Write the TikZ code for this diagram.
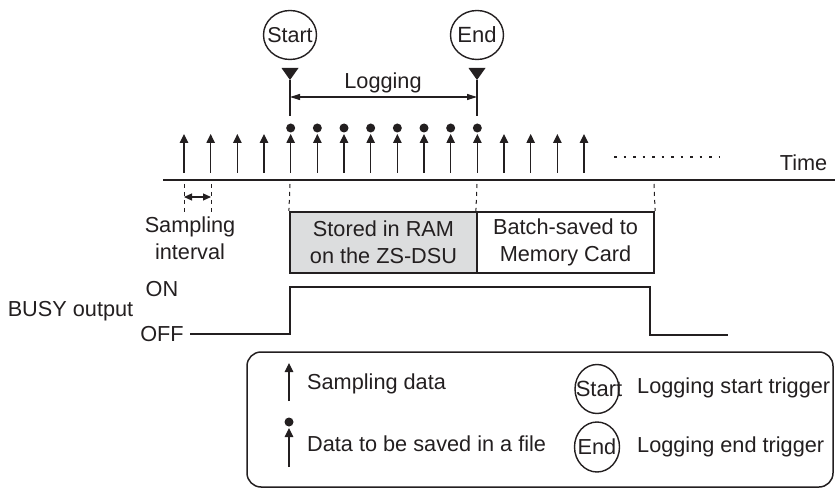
\documentclass[tikz,border=0pt]{standalone}
\usepackage{fontspec}
\setmainfont{Liberation Sans}
\usetikzlibrary{arrows.meta,shapes.geometric}
\definecolor{ink}{HTML}{231F20}
\definecolor{boxgray}{HTML}{DCDDDE}
\begin{document}
\begin{tikzpicture}[x=1pt,y=-1pt,
  lbl/.style={font=\fontsize{21.7}{26.5}\selectfont, inner sep=0pt, text=ink},
  trig/.style={draw=ink, line width=1.4pt, ellipse, inner sep=0pt, text=ink},
  samp/.style={draw=ink, line width=1.2pt, -{Triangle[length=9pt,width=8.5pt]}},
  dotmark/.style={circle, fill=ink, inner sep=0pt, minimum size=9pt},
  guide/.style={draw=ink, line width=1pt, dash pattern=on 4pt off 4pt},
  wire/.style={draw=ink, line width=1.3pt},
  marker/.style={fill=ink},
  storebox/.style={draw=ink, line width=2.2pt, minimum height=61pt, inner sep=0pt, align=center, font=\fontsize{21.7}{27}\selectfont, text=ink}
]
\useasboundingbox (0,0) rectangle (835,489);

% ---- triggers at top
\node[trig, minimum width=53pt, minimum height=49pt] (start) at (290,35) {};
\node[lbl, font=\fontsize{21.5}{24}\selectfont] (starttx) at (start.center) {Start};
\node[trig, minimum width=53pt, minimum height=49pt] (end) at (477,35) {};
\node[lbl, font=\fontsize{22}{24}\selectfont] (endtx) at (end.center) {End};
\coordinate (sa) at (290,80);
\coordinate (ea) at (477,80);
\coordinate (sl) at (290,116);
\coordinate (el) at (477,116);
\fill[marker] (sa) -- ++(-8.5,-12) -- ++(17,0) -- cycle;
\fill[marker] (ea) -- ++(-8.5,-12) -- ++(17,0) -- cycle;
\draw[wire] (sa) -- (sl);
\draw[wire] (ea) -- (el);
\coordinate (la) at (290,97);
\coordinate (lb) at (477,97);
\draw[wire, line width=1.1pt, {Triangle[length=10pt,width=6pt]}-{Triangle[length=10pt,width=6pt]}] (la) -- (lb);
\node[lbl] (logging) at (383,83) {Logging};

% ---- sampling arrows
\foreach \i in {0,...,15} {
  \pgfmathsetmacro\xx{184+26.667*\i}
  \coordinate (b\i) at (\xx,173);
  \coordinate (t\i) at (\xx,134);
  \draw[samp] (b\i) -- (t\i);
}
\foreach \i in {4,...,11} {
  \pgfmathsetmacro\xx{184+26.667*\i}
  \node[dotmark] (d\i) at (\xx,128) {};
}

% ---- time axis
\coordinate (ax0) at (163,180);
\coordinate (ax1) at (835,180);
\draw[wire, line width=1.5pt] (ax0) -- (ax1);
\node[lbl] (time) at (803.5,163) {Time};
\coordinate (dt0) at (614,157);
\coordinate (dt1) at (720,157);
\draw[draw=ink, line width=2.6pt, dash pattern=on 2.6pt off 6.9pt] (dt0) -- (dt1);

% ---- sampling interval
\coordinate (si0) at (184,184);
\coordinate (si0b) at (184,212);
\coordinate (si1) at (211,184);
\coordinate (si1b) at (211,212);
\draw[guide] (si0) -- (si0b);
\draw[guide] (si1) -- (si1b);
\coordinate (sia) at (184,197);
\coordinate (sib) at (211,197);
\draw[wire, line width=1.1pt, {Triangle[length=8pt,width=7pt]}-{Triangle[length=8pt,width=7pt]}] (sia) -- (sib);
\node[lbl, align=center] (sint) at (190,238) {Sampling\\interval};

% ---- storage boxes
\node[storebox, fill=boxgray, minimum width=187pt] (ram) at (383.5,242.5) {Stored in RAM\\on the ZS-DSU};
\node[storebox, minimum width=177pt] (card) at (565.5,242.5) {Batch-saved to\\Memory Card};
\coordinate (g1) at (290,184);
\coordinate (g2) at (477,184);
\coordinate (g3) at (654,184);
\draw[guide] (g1) -- (ram.north west);
\draw[guide] (g2) -- (card.north west);
\draw[guide] (g3) -- (card.north east);

% ---- BUSY output
\node[lbl] (busy) at (70.5,311) {BUSY output};
\node[lbl] (on) at (162,289) {ON};
\node[lbl] (off) at (162,334) {OFF};
\coordinate (w0) at (190,334);
\coordinate (w1) at (290,334);
\coordinate (w2) at (290,287);
\coordinate (w3) at (650,287);
\coordinate (w4) at (650,335);
\coordinate (w5) at (728,335);
\draw[wire] (w0) -- (w1) -- (w2) -- (w3) -- (w4) -- (w5);

% ---- legend
\coordinate (lg0) at (247,352);
\coordinate (lg1) at (833,487);
\draw[draw=ink, line width=1.5pt, rounded corners=14pt] (lg0) rectangle (lg1);
\coordinate (l1b) at (289,401);
\coordinate (l1t) at (289,363);
\draw[samp] (l1b) -- (l1t);
\node[lbl, anchor=west] (ltx1) at (307,384) {Sampling data};
\coordinate (l2b) at (289,467);
\coordinate (l2t) at (289,428);
\draw[samp] (l2b) -- (l2t);
\node[dotmark] (l2d) at (289,422) {};
\node[lbl, anchor=west] (ltx2) at (307,444) {Data to be saved in a file};
\node[trig, minimum width=44pt, minimum height=49pt] (lstart) at (597,389) {};
\node[lbl, font=\fontsize{22}{24}\selectfont] (lstarttx) at ([xshift=2pt]lstart.center) {Start};
\node[trig, minimum width=45pt, minimum height=50pt] (lend) at (597,447) {};
\node[lbl, font=\fontsize{21.7}{24}\selectfont] (lendtx) at (lend.center) {End};
\node[lbl, anchor=west] (ltx3) at (637,388) {Logging start trigger};
\node[lbl, anchor=west] (ltx4) at (637,447) {Logging end trigger};
\end{tikzpicture}
\end{document}
